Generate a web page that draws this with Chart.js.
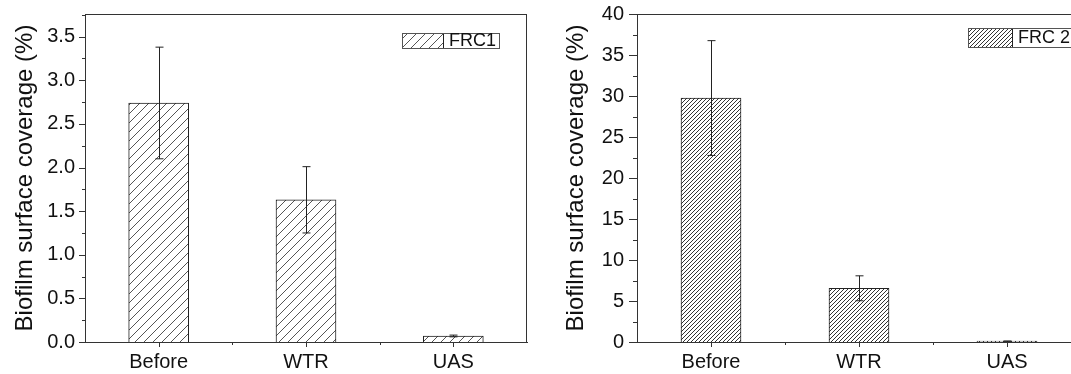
<!DOCTYPE html>
<html>
<head>
<meta charset="utf-8">
<script src="https://cdn.jsdelivr.net/npm/chart.js@4.4.1/dist/chart.umd.min.js"></script>
<style>
  html, body { margin: 0; padding: 0; background: #fff; overflow: hidden; }
  #wrap { position: relative; width: 1071px; height: 374px; overflow: hidden; }
  #left { position: absolute; left: 0; top: 0; }
  #right { position: absolute; left: 545px; top: 0; }
</style>
</head>
<body>
<div id="wrap">
  <canvas id="left" width="530" height="374"></canvas>
  <canvas id="right" width="540" height="374"></canvas>
</div>
<script>
// values
const categories = ['Before', 'WTR', 'UAS'];
const frc1Values = [2.74, 1.63, 0.069];
const frc1Errors = [0.64, 0.38, 0.01];
const frc2Values = [29.75, 6.55, 0.1];
const frc2Errors = [7.0, 1.52, 0.02];
const frc1Label = 'FRC1';
const frc2Label = 'FRC 2';
const yTitle = 'Biofilm surface coverage (%)';

const axisColor = '#333';
const textColor = '#111';
const fontFamily = 'Arial, "Liberation Sans", Helvetica, sans-serif';

// diagonal hatch pattern, spacing in px
function makeHatch(size, color, width) {
  const c = document.createElement('canvas');
  c.width = size;
  c.height = size;
  const g = c.getContext('2d');
  g.fillStyle = '#fff';
  g.fillRect(0, 0, size, size);
  g.strokeStyle = color;
  g.lineWidth = width;
  g.beginPath();
  g.moveTo(0, size); g.lineTo(size, 0);
  g.moveTo(-1, 1); g.lineTo(1, -1);
  g.moveTo(size - 1, size + 1); g.lineTo(size + 1, size - 1);
  g.stroke();
  return g.createPattern(c, 'repeat');
}

// no automatic label padding, the plot box is fixed by layout padding
function noPad(s) {
  s.paddingTop = 0;
  s.paddingBottom = 0;
  s.paddingLeft = 0;
  s.paddingRight = 0;
}

const decor = {
  id: 'decor',
  afterDatasetsDraw(chart, args, opts) {
    const ctx = chart.ctx;
    const y = chart.scales.y;
    const x = chart.scales.x;
    const errs = opts.errors;
    ctx.save();
    ctx.strokeStyle = '#222';
    ctx.lineWidth = 1;
    chart.data.datasets[0].data.forEach((v, i) => {
      const px = Math.round(x.getPixelForValue(i)) + 0.5;
      const top = y.getPixelForValue(v + errs[i]);
      const bot = y.getPixelForValue(v - errs[i]);
      ctx.beginPath();
      ctx.moveTo(px, top); ctx.lineTo(px, bot);
      ctx.moveTo(px - 4, top); ctx.lineTo(px + 4, top);
      ctx.moveTo(px - 4, bot); ctx.lineTo(px + 4, bot);
      ctx.stroke();
    });
    ctx.restore();
  },
  afterDraw(chart, args, opts) {
    const ctx = chart.ctx;
    const a = chart.chartArea;
    const y = chart.scales.y;
    const x = chart.scales.x;
    ctx.save();
    ctx.strokeStyle = axisColor;
    ctx.lineWidth = 1;
    // top and right frame
    ctx.beginPath();
    ctx.moveTo(a.left, Math.round(a.top) + 0.5);
    ctx.lineTo(a.right, Math.round(a.top) + 0.5);
    ctx.moveTo(Math.round(a.right) - 0.5, a.top);
    ctx.lineTo(Math.round(a.right) - 0.5, a.bottom);
    ctx.stroke();
    // y ticks, major + minor, outward
    ctx.beginPath();
    const step = opts.step;
    for (let v = 0; v <= y.max + 1e-9; v += step / 2) {
      const py = Math.round(y.getPixelForValue(v)) + 0.5;
      const major = Math.abs(v / step - Math.round(v / step)) < 1e-6;
      const len = major ? opts.majorLen : opts.majorLen / 2;
      ctx.moveTo(a.left - len, py);
      ctx.lineTo(a.left, py);
    }
    // x ticks at categories and between
    for (let i = 0; i < categories.length; i++) {
      const px = Math.round(x.getPixelForValue(i)) + 0.5;
      ctx.moveTo(px, a.bottom); ctx.lineTo(px, a.bottom + 5);
      if (i > 0) {
        const pb = Math.round((x.getPixelForValue(i) + x.getPixelForValue(i - 1)) / 2) + 0.5;
        ctx.moveTo(pb, a.bottom); ctx.lineTo(pb, a.bottom + 3);
      }
    }
    ctx.stroke();

    // legend box
    const lg = opts.legend;
    const lx = a.right - lg.fromRight;
    ctx.fillStyle = chart.data.datasets[0].backgroundColor;
    ctx.fillRect(lx, lg.top, lg.swatch, lg.height);
    ctx.strokeStyle = '#222';
    ctx.strokeRect(lx + 0.5, lg.top + 0.5, lg.swatch, lg.height);
    ctx.strokeStyle = '#555';
    ctx.strokeRect(lx + 0.5, lg.top + 0.5, lg.width, lg.height);
    ctx.fillStyle = textColor;
    ctx.font = lg.fontSize + 'px ' + fontFamily;
    ctx.textBaseline = 'middle';
    ctx.fillText(chart.data.datasets[0].label, lx + lg.swatch + 6, lg.top + lg.height / 2 + 1);
    ctx.restore();
  }
};

function makeChart(id, values, errors, label, hatch, cfg) {
  return new Chart(document.getElementById(id), {
    type: 'bar',
    data: {
      labels: categories,
      datasets: [{
        label: label,
        data: values,
        backgroundColor: hatch,
        borderColor: '#222',
        borderWidth: 1,
        barThickness: 60
      }]
    },
    options: {
      responsive: false,
      devicePixelRatio: 1,
      animation: false,
      layout: { padding: { top: 14, right: cfg.padRight, left: 0, bottom: 0 } },
      plugins: {
        legend: { display: false },
        tooltip: { enabled: false },
        decor: { errors: errors, step: cfg.step, majorLen: cfg.majorLen, legend: cfg.legend }
      },
      scales: {
        x: {
          grid: { display: false, drawTicks: false, tickLength: 0 },
          border: { display: true, color: axisColor, width: 1 },
          ticks: { color: textColor, font: { family: fontFamily, size: 20 }, padding: 8, maxRotation: 0 },
          afterFit: (s) => { s.height = 32; noPad(s); }
        },
        y: {
          min: 0,
          max: cfg.max,
          grid: { display: false, drawTicks: false, tickLength: 0 },
          border: { display: true, color: axisColor, width: 1 },
          ticks: {
            stepSize: cfg.step,
            includeBounds: false,
            color: textColor,
            padding: cfg.tickPad,
            font: { family: fontFamily, size: 20 },
            callback: (v) => v.toFixed(cfg.decimals)
          },
          title: {
            display: true,
            text: yTitle,
            color: textColor,
            font: { family: fontFamily, size: 24 },
            padding: { top: cfg.titlePad, bottom: 0 }
          },
          afterFit: (s) => { s.width = cfg.axisWidth; noPad(s); }
        }
      }
    },
    plugins: [decor]
  });
}

makeChart('left', frc1Values, frc1Errors, frc1Label, makeHatch(9, '#555', 1), {
  max: 3.76, step: 0.5, decimals: 1, axisWidth: 85, padRight: 3, tickPad: 10,
  titlePad: 11, majorLen: 6,
  legend: { fromRight: 125, top: 33, height: 15, width: 97, swatch: 41, fontSize: 18 }
});

makeChart('right', frc2Values, frc2Errors, frc2Label, makeHatch(4, '#333', 1), {
  max: 40, step: 5, decimals: 0, axisWidth: 92, padRight: 4, tickPad: 13,
  titlePad: 17, majorLen: 8,
  legend: { fromRight: 113, top: 28, height: 19, width: 120, swatch: 44, fontSize: 18 }
});
</script>
</body>
</html>
